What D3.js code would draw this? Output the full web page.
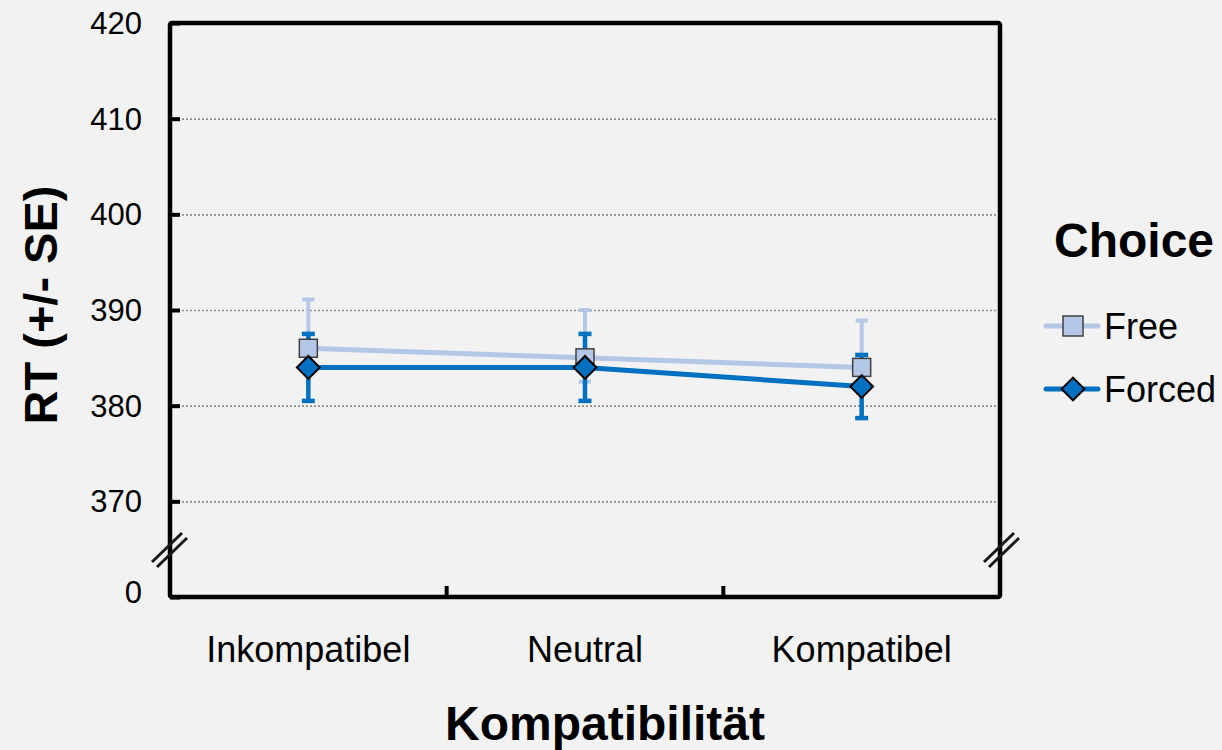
<!DOCTYPE html>
<html>
<head>
<meta charset="utf-8">
<script src="https://cdn.jsdelivr.net/npm/d3@7"></script>
<style>
  html, body { margin: 0; padding: 0; background: #f2f2f2; }
  svg { display: block; font-family: "Liberation Sans", Arial, sans-serif; }
</style>
</head>
<body>
<div id="chart"></div>
<script>
// data
const categories = ["Inkompatibel", "Neutral", "Kompatibel"];
const freeMean = [386, 385, 384];
const freeErrUp = [5.1, 5, 4.9];
const freeErrDown = [2.5, 2.5, 2.5];
const forcedMean = [384, 384, 382];
const forcedErr = [3.5, 3.5, 3.3];
const yTicks = [360, 370, 380, 390, 400, 410, 420];
const yTickLabels = ["0", "370", "380", "390", "400", "410", "420"];

let width = 1222;
let height = 750;
let plotLeft = 170, plotRight = 1000, plotTop = 23, plotBottom = 597;

let svg = d3.select("#chart").append("svg")
  .attr("width", width)
  .attr("height", height);

svg.append("rect").attr("width", width).attr("height", height).attr("fill", "#f2f2f2");

let x = d3.scaleBand().domain(categories).range([plotLeft, plotRight]);
let y = d3.scaleLinear().domain([360, 420]).range([plotBottom, plotTop]);

// gridlines
let grid = svg.append("g")
  .attr("transform", "translate(" + plotLeft + ",0)")
  .call(d3.axisLeft(y).tickValues(yTicks.slice(1, -1)).tickSize(-(plotRight - plotLeft)).tickFormat(""));
grid.select(".domain").remove();
grid.selectAll("line")
  .attr("stroke", "#8c8c8c")
  .attr("stroke-width", 1.6)
  .attr("stroke-dasharray", "2,2");

// y axis with inward ticks
let yAxis = svg.append("g")
  .attr("transform", "translate(" + plotLeft + ",0)")
  .call(d3.axisLeft(y).tickValues(yTicks).tickSize(-10).tickPadding(28)
    .tickFormat((d, i) => yTickLabels[i]));
yAxis.select(".domain").remove();
yAxis.selectAll("line").attr("stroke", "#000").attr("stroke-width", 4);
yAxis.selectAll("text")
  .attr("fill", "#000")
  .style("font-size", "31px")
  .attr("dy", (d) => d === 360 ? "5px" : "0.34em");

// x axis ticks between categories (inward)
let xTickPos = categories.slice(1).map(c => x(c));
svg.append("g").selectAll("line")
  .data(xTickPos).enter().append("line")
  .attr("x1", d => d).attr("x2", d => d)
  .attr("y1", plotBottom).attr("y2", plotBottom - 11)
  .attr("stroke", "#000").attr("stroke-width", 4);

svg.append("g").selectAll("text")
  .data(categories).enter().append("text")
  .attr("x", d => x(d) + x.bandwidth() / 2)
  .attr("y", 662)
  .attr("text-anchor", "middle")
  .style("font-size", "36px")
  .text(d => d);

// frame
svg.append("rect")
  .attr("x", plotLeft).attr("y", plotTop)
  .attr("width", plotRight - plotLeft).attr("height", plotBottom - plotTop)
  .attr("fill", "none").attr("stroke", "#000").attr("stroke-width", 4.5)
  .attr("rx", 2);

// axis breaks
[plotLeft, plotRight + 2].forEach(function (bx) {
  [0, 5].forEach(function (off) {
    svg.append("line")
      .attr("x1", bx - 18 + off).attr("y1", 562 + off)
      .attr("x2", bx + 12 + off).attr("y2", 533 + off)
      .attr("stroke", "#1a1a1a").attr("stroke-width", 3);
  });
});

// series
let freeColor = "#b4c7e7";
let forcedColor = "#0070c0";
let cx = (i) => x(categories[i]) + x.bandwidth() / 2;

let line = d3.line().x((d, i) => cx(i)).y(d => y(d));

// free error bars
let freeErr = svg.append("g");
freeMean.forEach(function (m, i) {
  let hi = y(m + freeErrUp[i]), lo = y(m - freeErrDown[i]);
  freeErr.append("line").attr("x1", cx(i)).attr("x2", cx(i)).attr("y1", hi).attr("y2", lo)
    .attr("stroke", freeColor).attr("stroke-width", 4);
  [hi, lo].forEach(function (yy) {
    freeErr.append("line").attr("x1", cx(i) - 6).attr("x2", cx(i) + 6).attr("y1", yy).attr("y2", yy)
      .attr("stroke", freeColor).attr("stroke-width", 4);
  });
});

svg.append("path").datum(freeMean)
  .attr("d", line).attr("fill", "none")
  .attr("stroke", freeColor).attr("stroke-width", 5);

// forced error bars
let forcedErrG = svg.append("g");
forcedMean.forEach(function (m, i) {
  let hi = y(m + forcedErr[i]), lo = y(m - forcedErr[i]);
  forcedErrG.append("line").attr("x1", cx(i)).attr("x2", cx(i)).attr("y1", hi).attr("y2", lo)
    .attr("stroke", forcedColor).attr("stroke-width", 4.5);
  [hi, lo].forEach(function (yy) {
    forcedErrG.append("line").attr("x1", cx(i) - 6.5).attr("x2", cx(i) + 6.5).attr("y1", yy).attr("y2", yy)
      .attr("stroke", forcedColor).attr("stroke-width", 4.5);
  });
});

svg.append("path").datum(forcedMean)
  .attr("d", line).attr("fill", "none")
  .attr("stroke", forcedColor).attr("stroke-width", 5);

// markers
svg.append("g").selectAll("rect")
  .data(freeMean).enter().append("rect")
  .attr("x", (d, i) => cx(i) - 9).attr("y", d => y(d) - 9)
  .attr("width", 18).attr("height", 18)
  .attr("fill", freeColor).attr("stroke", "#404040").attr("stroke-width", 1.5);

let diamond = d3.symbol().type(d3.symbolSquare).size(260);
svg.append("g").selectAll("path")
  .data(forcedMean).enter().append("path")
  .attr("d", diamond)
  .attr("transform", (d, i) => "translate(" + cx(i) + "," + y(d) + ") rotate(45)")
  .attr("fill", forcedColor).attr("stroke", "#000").attr("stroke-width", 2);

// axis titles
svg.append("text")
  .attr("x", 605).attr("y", 740)
  .attr("text-anchor", "middle")
  .style("font-size", "48px").style("font-weight", "bold")
  .text("Kompatibilität");

svg.append("text")
  .attr("transform", "translate(57,305) rotate(-90)")
  .attr("text-anchor", "middle")
  .style("font-size", "47px").style("font-weight", "bold")
  .text("RT (+/- SE)");

// legend
let legend = svg.append("g");
legend.append("text")
  .attr("x", 1134).attr("y", 257)
  .attr("text-anchor", "middle")
  .style("font-size", "48px").style("font-weight", "bold")
  .text("Choice");

let items = [
  { name: "Free", color: freeColor, y: 326 },
  { name: "Forced", color: forcedColor, y: 389 }
];
items.forEach(function (it, k) {
  legend.append("line")
    .attr("x1", 1046).attr("x2", 1098).attr("y1", it.y).attr("y2", it.y)
    .attr("stroke", it.color).attr("stroke-width", 5).attr("stroke-linecap", "round");
  if (k === 0) {
    legend.append("rect")
      .attr("x", 1063).attr("y", it.y - 10).attr("width", 20).attr("height", 20)
      .attr("fill", freeColor).attr("stroke", "#404040").attr("stroke-width", 1.5);
  } else {
    legend.append("path").attr("d", diamond)
      .attr("transform", "translate(1073," + it.y + ") rotate(45)")
      .attr("fill", forcedColor).attr("stroke", "#000").attr("stroke-width", 2);
  }
  legend.append("text")
    .attr("x", 1104).attr("y", it.y)
    .attr("dy", "0.36em")
    .style("font-size", "36px")
    .text(it.name);
});
</script>
</body>
</html>
